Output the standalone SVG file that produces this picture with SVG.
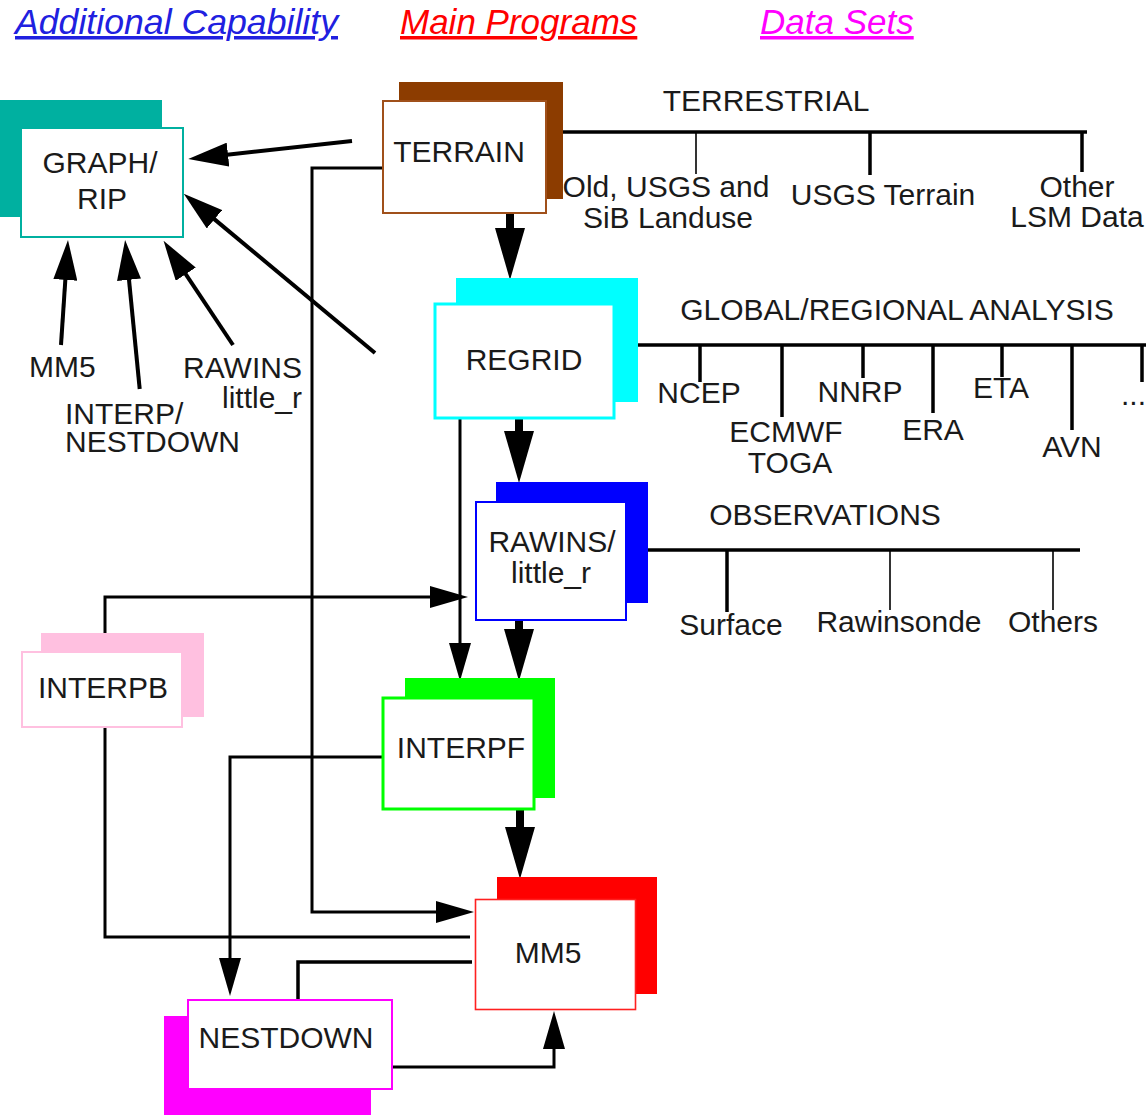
<svg xmlns="http://www.w3.org/2000/svg" width="1146" height="1118" viewBox="0 0 1146 1118">
<style>
text{font-family:"Liberation Sans",Arial,sans-serif;font-size:30px;fill:#1a1a1a}
.c{text-anchor:middle}
.hdr{font-size:35px;font-style:italic;text-decoration:underline}
.front{fill:#fff}
.ln{fill:none;stroke:#000;stroke-width:3;stroke-linejoin:miter}
.thick{fill:none;stroke:#000;stroke-width:8}
.garr{fill:none;stroke:#000;stroke-width:4}
.bus{stroke:#000;stroke-width:3.5}
.tk{stroke:#000;stroke-width:3.5}
.tkt{stroke:#000;stroke-width:1.6}
</style>
<defs>
<marker id="mBig" markerUnits="userSpaceOnUse" viewBox="0 0 52 30" markerWidth="52" markerHeight="30" refX="1" refY="15" orient="auto">
<path d="M0,0 L52,15 L0,30 Z" fill="#000"/>
</marker>
<marker id="mThin" markerUnits="userSpaceOnUse" viewBox="0 0 38 22" markerWidth="38" markerHeight="22" refX="1" refY="11" orient="auto">
<path d="M0,0 L38,11 L0,22 Z" fill="#000"/>
</marker>
<marker id="mG" markerUnits="userSpaceOnUse" viewBox="0 0 40 24" markerWidth="40" markerHeight="24" refX="1" refY="12" orient="auto">
<path d="M0,0 L40,12 L0,24 Z" fill="#000"/>
</marker>
</defs>

<g id="legend">
<text class="hdr" x="15" y="34" style="fill:#2020e0" textLength="323" lengthAdjust="spacingAndGlyphs">Additional Capability</text>
<text class="hdr" x="400" y="34" style="fill:#ff0000">Main Programs</text>
<text class="hdr" x="760" y="34" style="fill:#ff00ff">Data Sets</text>
</g>

<g id="connectors">
<line class="thick" x1="510" y1="213" x2="510" y2="229" marker-end="url(#mBig)"/>
<line class="thick" x1="519" y1="419" x2="519" y2="432" marker-end="url(#mBig)"/>
<line class="thick" x1="519" y1="621" x2="519" y2="630" marker-end="url(#mBig)"/>
<line class="thick" x1="520" y1="810" x2="520" y2="828" marker-end="url(#mBig)"/>
<path class="ln" d="M105,633 V597 H431" marker-end="url(#mThin)"/>
<path class="ln" d="M460,419 V644" marker-end="url(#mThin)"/>
<path class="ln" d="M382,168 H312 V912 H437" marker-end="url(#mThin)"/>
<path class="ln" d="M105,728 V937 H470"/>
<path class="ln" d="M382,757 H230 V959" marker-end="url(#mThin)"/>
<path class="ln" d="M472,962 H298 V999" style="stroke-width:3.5"/>
<path class="ln" d="M393,1067 H554 V1048" marker-end="url(#mThin)"/>
<line class="garr" x1="352" y1="141" x2="227" y2="154.7" marker-end="url(#mG)"/>
<line class="garr" x1="375" y1="353" x2="213.7" y2="218.6" marker-end="url(#mG)"/>
<line class="garr" x1="61" y1="345" x2="65.4" y2="278.9" marker-end="url(#mG)"/>
<line class="garr" x1="139.7" y1="389" x2="128.9" y2="278.8" marker-end="url(#mG)"/>
<line class="garr" x1="233" y1="345" x2="185.2" y2="273.3" marker-end="url(#mG)"/>
<line class="bus" x1="563" y1="132" x2="1087" y2="132"/>
<line class="tkt" x1="696" y1="132" x2="696" y2="174"/>
<line class="tk" x1="870" y1="132" x2="870" y2="175"/>
<line class="tk" x1="1082" y1="132" x2="1082" y2="172"/>
<line class="bus" x1="638" y1="345" x2="1146" y2="345"/>
<line class="tk" x1="700" y1="345" x2="700" y2="382"/>
<line class="tk" x1="782" y1="345" x2="782" y2="417"/>
<line class="tk" x1="863" y1="345" x2="863" y2="378"/>
<line class="tk" x1="933" y1="345" x2="933" y2="413"/>
<line class="tk" x1="1002" y1="345" x2="1002" y2="377"/>
<line class="tk" x1="1072" y1="345" x2="1072" y2="430"/>
<line class="tk" x1="1142" y1="345" x2="1142" y2="382"/>
<line class="bus" x1="648" y1="550" x2="1080" y2="550"/>
<line class="tk" x1="727" y1="550" x2="727" y2="612"/>
<line class="tkt" x1="890" y1="550" x2="890" y2="610"/>
<line class="tkt" x1="1053" y1="550" x2="1053" y2="610"/>
</g>

<g id="graph-rip">
<rect x="0" y="100" width="162" height="117" fill="#00b0a0"/>
<rect class="front" x="21" y="128" width="162" height="109" stroke="#00b0a0" stroke-width="2"/>
<text class="c" x="100" y="173">GRAPH/</text>
<text class="c" x="102" y="209">RIP</text>
</g>
<g id="terrain">
<rect x="399" y="82" width="164" height="117" fill="#8c3c00"/>
<rect class="front" x="383" y="101" width="163" height="112" stroke="#a0501a" stroke-width="2"/>
<text class="c" x="459" y="162">TERRAIN</text>
</g>
<g id="regrid">
<rect x="456" y="278" width="182" height="124" fill="#00ffff"/>
<rect class="front" x="435" y="304" width="179" height="114" stroke="#00ffff" stroke-width="3"/>
<text class="c" x="524" y="370">REGRID</text>
</g>
<g id="rawins">
<rect x="496" y="482" width="152" height="121" fill="#0000ff"/>
<rect class="front" x="476" y="502" width="150" height="118" stroke="#0000ff" stroke-width="2"/>
<text class="c" x="552" y="552">RAWINS/</text>
<text class="c" x="551" y="583">little_r</text>
</g>
<g id="interpb">
<rect x="41" y="633" width="163" height="84" fill="#ffc0e0"/>
<rect class="front" x="22" y="652" width="160" height="75" stroke="#ffc0e0" stroke-width="2"/>
<text class="c" x="103" y="698">INTERPB</text>
</g>
<g id="interpf">
<rect x="405" y="678" width="150" height="120" fill="#00ff00"/>
<rect class="front" x="383" y="698" width="151" height="111" stroke="#00ff00" stroke-width="3"/>
<text class="c" x="461" y="758">INTERPF</text>
</g>
<g id="mm5">
<rect x="497" y="877" width="160" height="117" fill="#ff0000"/>
<rect class="front" x="475.5" y="899.5" width="160" height="110" stroke="#ff2020" stroke-width="1.6"/>
<text class="c" x="548" y="963">MM5</text>
</g>
<g id="nestdown">
<rect x="164" y="1016" width="207" height="99" fill="#ff00ff"/>
<rect class="front" x="188" y="1000" width="204" height="89" stroke="#ff00ff" stroke-width="2"/>
<text class="c" x="286" y="1048">NESTDOWN</text>
</g>

<g id="labels">
<text x="29" y="377">MM5</text>
<text x="65" y="424">INTERP/</text>
<text x="65" y="452">NESTDOWN</text>
<text x="183" y="378">RAWINS</text>
<text x="302" y="408" style="text-anchor:end">little_r</text>
<text class="c" x="766" y="111">TERRESTRIAL</text>
<text class="c" x="666" y="197">Old, USGS and</text>
<text class="c" x="668" y="228">SiB Landuse</text>
<text class="c" x="883" y="205">USGS Terrain</text>
<text class="c" x="1077" y="197">Other</text>
<text class="c" x="1077" y="227">LSM Data</text>
<text class="c" x="897" y="320">GLOBAL/REGIONAL ANALYSIS</text>
<text class="c" x="699" y="403">NCEP</text>
<text class="c" x="786" y="442">ECMWF</text>
<text class="c" x="790" y="473">TOGA</text>
<text class="c" x="860" y="402">NNRP</text>
<text class="c" x="933" y="440">ERA</text>
<text class="c" x="1001" y="398">ETA</text>
<text class="c" x="1072" y="457">AVN</text>
<text x="1121" y="405">...</text>
<text class="c" x="825" y="525">OBSERVATIONS</text>
<text class="c" x="731" y="635">Surface</text>
<text class="c" x="899" y="632">Rawinsonde</text>
<text class="c" x="1053" y="632">Others</text>
</g>
</svg>
